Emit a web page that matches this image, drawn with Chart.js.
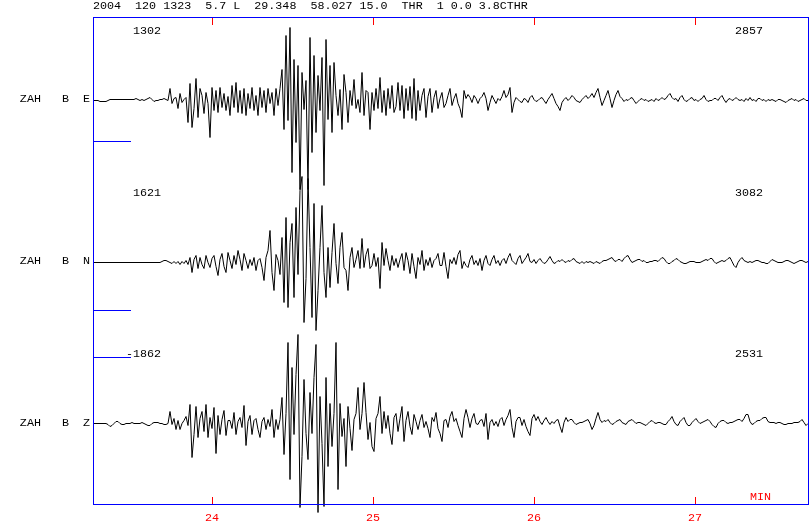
<!DOCTYPE html>
<html>
<head>
<meta charset="utf-8">
<title>ZAH</title>
<script src="https://cdn.jsdelivr.net/npm/chart.js"></script>
<style>
  html, body { margin: 0; padding: 0; background: #fff; }
  #wrap { width: 810px; height: 525px; }
</style>
</head>
<body>
<div id="wrap"><canvas id="sismo" width="810" height="525"></canvas></div>
<script>
var header = '2004  120 1323  5.7 L  29.348  58.027 15.0  THR  1 0.0 3.8CTHR';
var stations = ['ZAH   B  E', 'ZAH   B  N', 'ZAH   B  Z'];
var minuteTicks = [24, 25, 26, 27];
var ampLeft = ['1302', '1621', '-1862'];
var ampRight = ['2857', '3082', '2531'];
var calMarks = [-40, -47, 67];
var t0 = 23.267;      // minutes
var dt = 2 / 161;     // minutes per sample

// amplitudes (screen px, up = positive)
var traceE = [
  0,0,0,-1,-1,-1,-1,0,1,1,
  1,1,1,1,1,1,1,1,1,1,
  1,2,1,0,1,0,1,2,3,1,
  -1,0,0,1,1,2,1,0,12,-3,
  2,3,-8,7,-2,1,3,-22,17,-27,
  -8,22,-17,12,5,-13,8,-3,-37,13,
  -10,10,-12,13,-7,7,-10,4,-15,15,
  -7,18,-12,10,-13,12,-15,7,-8,13,
  -10,5,-15,13,-7,10,-12,12,-3,8,
  -15,12,-5,12,31,-29,65,-20,73,-72,
  41,-42,35,-89,28,-9,20,-89,63,-52,
  45,-32,25,-10,43,-85,61,-19,35,-32,
  38,5,-15,11,-29,26,8,-22,10,-5,
  21,-8,1,-12,28,-15,10,8,-29,8,
  -10,12,-8,23,-12,10,-15,12,-8,15,
  -12,-6,18,-10,15,-18,12,-10,14,-18,
  22,-20,10,-10,5,12,-17,4,12,-12,
  3,10,-8,2,8,-7,-3,5,12,-5,
  2,7,-3,-8,-17,10,2,6,3,-2,
  5,2,-3,2,4,8,2,-10,-2,5,
  1,-3,2,0,4,10,3,6,13,-12,
  -2,3,1,-1,-2,2,1,-2,3,5,
  1,-1,0,2,3,0,-3,1,4,7,
  2,-3,-6,-10,-2,1,3,0,2,5,
  3,0,-1,-2,1,3,5,2,4,7,
  3,8,12,3,-5,0,5,10,2,-7,
  0,6,10,4,2,-1,1,0,2,3,
  0,-3,-1,1,2,0,1,-1,0,1,
  -1,2,0,1,3,1,2,5,7,3,
  1,2,-1,3,5,1,-1,0,2,3,
  0,1,-1,1,2,5,1,-1,0,0,
  2,2,0,3,5,1,-2,1,2,0,
  1,3,1,0,1,-1,2,0,3,0,
  1,-1,2,2,0,1,-1,1,0,1,
  0,-1,1,1,0,-1,-2,0,1,2,
  0,1,-1,0,1,2,0,0
];
var traceN = [
  0,0,0,0,0,0,0,0,0,0,
  0,0,0,0,0,0,0,0,0,0,
  0,0,0,0,0,0,0,0,0,0,
  0,0,0,0,1,2,2,1,0,-1,
  1,-1,1,-2,1,-1,2,-2,5,-10,
  3,7,-6,5,-2,-6,7,0,-5,4,
  7,-4,-13,3,9,-4,-10,10,2,-6,
  7,-2,12,3,-8,9,2,-6,3,-3,
  5,-8,2,4,-5,-18,5,12,32,-10,
  -28,8,2,-12,25,-40,45,-45,20,39,
  -35,55,-12,72,86,-60,-16,84,15,-55,
  59,-68,-28,15,57,-10,-35,15,-25,10,
  39,-1,-21,15,30,-5,-8,-28,5,15,
  -5,3,12,-6,24,-5,8,14,-6,-3,
  9,-4,5,-26,20,-3,14,2,-8,7,
  -3,4,-5,3,9,-8,10,2,-11,9,
  -4,-16,5,-2,12,-8,3,-3,5,-5,
  2,4,9,-3,-3,10,-4,-16,3,-1,
  5,-2,8,12,-6,1,-3,-5,3,7,
  -2,2,-3,4,-8,2,7,-1,-3,3,
  7,-1,2,-3,2,4,-1,5,9,2,
  0,-2,4,7,-1,2,5,9,1,0,
  3,-1,2,4,1,-1,0,3,6,2,
  -1,0,2,1,3,1,0,2,1,3,
  4,1,0,-1,1,-1,1,0,1,0,
  -1,1,0,-1,1,2,2,3,4,5,
  2,1,3,3,1,4,6,7,3,0,
  1,2,3,3,1,2,0,0,1,1,
  2,2,1,3,5,4,1,-1,-1,1,
  2,4,3,1,0,-1,-1,0,1,1,
  1,0,0,0,1,2,3,2,4,4,
  1,-1,0,1,2,1,2,4,5,1,
  -3,-5,0,3,5,2,1,0,1,0,
  1,2,2,1,0,0,-1,-1,1,3,
  2,1,0,0,0,1,2,2,1,0,
  -1,0,1,2,2,1,0,1
];
var traceZ = [
  0,0,0,0,0,0,0,-1,-3,-2,
  0,2,2,0,-1,-1,0,0,0,1,
  0,0,0,0,1,0,-1,-2,-2,0,
  1,1,1,0,0,-1,-1,0,12,-1,
  5,-6,3,-6,0,3,7,-2,19,-34,
  -11,17,-14,5,12,-8,19,-14,6,-5,
  16,-30,8,-11,4,13,-12,3,3,-5,
  11,-11,2,6,-4,18,-22,2,8,-11,
  3,5,-6,-14,2,6,-6,4,-3,14,
  -14,4,-6,4,26,-31,10,81,-56,56,
  -11,49,89,-84,-33,44,-10,-36,31,-10,
  46,79,-89,27,-20,-83,46,-43,20,-23,
  10,81,-66,20,-13,5,-43,17,-5,-27,
  4,10,36,-6,10,41,11,-16,1,-23,
  -28,5,10,27,-10,12,-5,8,-10,-21,
  6,10,-8,5,17,-18,3,12,-3,-11,
  9,2,-6,3,9,-4,2,-5,-14,6,
  2,11,-5,-10,-18,3,4,-4,7,12,
  2,5,-2,-8,-14,5,14,6,-4,5,
  10,0,-1,3,4,-3,10,-16,1,4,
  -2,2,-3,4,6,-2,4,8,14,-4,
  -14,2,6,6,-2,4,-3,-8,-12,5,
  9,3,7,2,-1,3,6,2,-1,2,
  0,3,4,-3,-9,1,6,2,4,4,
  1,-1,0,1,1,2,3,4,0,-6,
  -2,5,11,4,1,3,2,4,1,-1,
  0,2,3,4,1,0,-1,2,3,4,
  2,0,1,1,0,-1,-2,0,2,3,
  1,0,1,1,0,-1,-1,2,4,7,
  2,-1,-2,2,4,6,1,-2,-2,1,
  3,5,2,0,1,2,3,4,2,-1,
  -3,-4,0,2,3,3,1,0,1,1,
  2,3,4,4,2,5,9,9,2,-1,
  0,2,3,3,5,6,6,2,1,1,
  1,0,1,1,0,-1,-1,0,0,0,
  1,1,1,2,4,1,-2,0
];

var FONT_FAMILY = '"Liberation Mono", "DejaVu Sans Mono", monospace';
var FONT_SIZE = 11.7;

document.addEventListener('DOMContentLoaded', function () {
    var ctx = document.getElementById('sismo').getContext('2d');

    function toPoints(amps) {
        return amps.map(function (a, i) { return { x: t0 + i * dt, y: a }; });
    }

    // each trace gets its own hidden axis, shifted so its zero sits on its row
    function traceAxis(basePx) {
        return { type: 'linear', display: false, min: basePx - 504, max: basePx - 18 };
    }

    function traceSet(amps, axisId) {
        return {
            data: toPoints(amps),
            yAxisID: axisId,
            borderColor: '#000000',
            borderWidth: 1,
            pointRadius: 0,
            tension: 0,
            clip: false
        };
    }

    var overlay = {
        id: 'overlay',
        afterDraw: function (chart) {
            var c = chart.ctx;
            var a = chart.chartArea;
            var xs = chart.scales.x;
            var ys = [chart.scales.yE, chart.scales.yN, chart.scales.yZ];
            c.save();
            c.font = FONT_SIZE + 'px ' + FONT_FAMILY;
            c.textBaseline = 'middle';
            c.fillStyle = '#000000';
            c.textAlign = 'left';
            c.fillText(header, 93, 6);

            ys.forEach(function (s, k) {
                var ty = s.getPixelForValue(70);
                c.fillStyle = '#000000';
                c.textAlign = 'right';
                c.fillText(ampLeft[k], 161, ty);
                c.textAlign = 'left';
                c.fillText(ampRight[k], 735, ty);
                // calibration bar
                c.fillStyle = '#0000ff';
                c.fillRect(a.left, Math.round(s.getPixelForValue(calMarks[k])), 37, 1);
            });

            // frame
            c.lineWidth = 1;
            c.strokeStyle = '#0000ff';
            c.strokeRect(a.left - 0.5, a.top - 0.5, a.right - a.left + 1, a.bottom - a.top + 1);

            // minute marks, top and bottom
            c.strokeStyle = '#ff0000';
            minuteTicks.forEach(function (m) {
                var px = Math.round(xs.getPixelForValue(m)) + 0.5;
                c.beginPath();
                c.moveTo(px, a.top);
                c.lineTo(px, a.top + 7);
                c.moveTo(px, a.bottom);
                c.lineTo(px, a.bottom - 7);
                c.stroke();
            });

            c.fillStyle = '#ff0000';
            c.textAlign = 'left';
            c.fillText('MIN', 750, a.bottom - 7);
            c.restore();
        }
    };

    new Chart(ctx, {
        type: 'line',
        data: {
            datasets: [
                traceSet(traceE, 'yE'),
                traceSet(traceN, 'yN'),
                traceSet(traceZ, 'yZ')
            ]
        },
        options: {
            responsive: false,
            animation: false,
            events: [],
            normalized: true,
            layout: { padding: { top: 18, right: 2, left: 0, bottom: 0 } },
            plugins: {
                legend: { display: false },
                tooltip: { enabled: false }
            },
            scales: {
                x: {
                    type: 'linear',
                    min: t0,
                    max: t0 + (traceE.length - 1) * dt,
                    grid: { display: false, drawTicks: false },
                    border: { display: false },
                    afterBuildTicks: function (s) {
                        s.ticks = minuteTicks.map(function (m) { return { value: m }; });
                    },
                    afterFit: function (s) { s.height = 21; },
                    ticks: {
                        color: '#ff0000',
                        font: { family: FONT_FAMILY, size: FONT_SIZE },
                        padding: 7,
                        maxRotation: 0,
                        autoSkip: false
                    }
                },
                yLab: {
                    type: 'category',
                    labels: stations,
                    offset: true,
                    position: 'left',
                    grid: { display: false, drawTicks: false },
                    border: { display: false },
                    afterFit: function (s) { s.width = 94; },
                    ticks: {
                        color: '#000000',
                        font: { family: FONT_FAMILY, size: FONT_SIZE },
                        padding: 4
                    }
                },
                yE: traceAxis(100.5),
                yN: traceAxis(262.5),
                yZ: traceAxis(423.5)
            }
        },
        plugins: [overlay]
    });
});
</script>
</body>
</html>
